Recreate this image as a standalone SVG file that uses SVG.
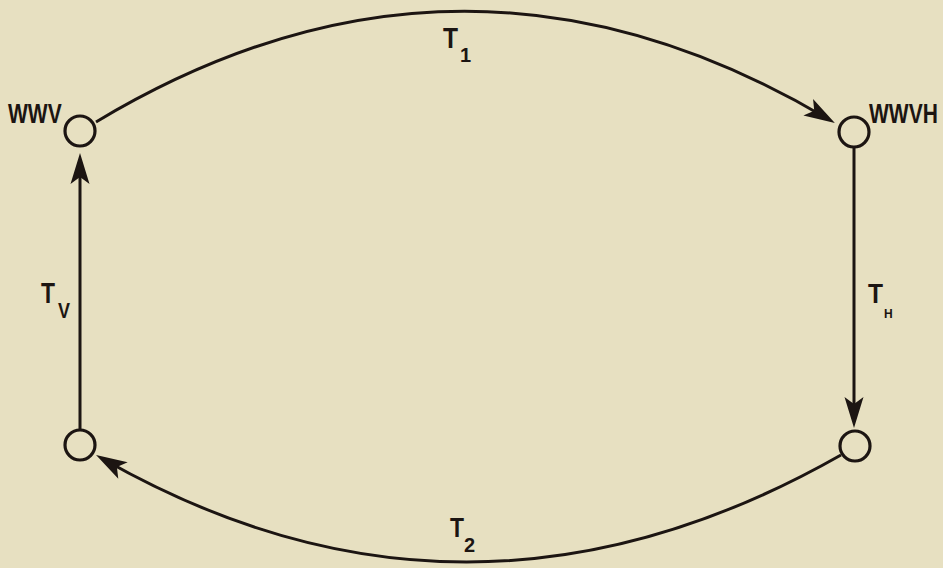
<svg xmlns="http://www.w3.org/2000/svg" width="943" height="568" viewBox="0 0 943 568">
<style>
.ln{fill:none;stroke:#1c1512;stroke-width:3}
.nd{fill:none;stroke:#1c1512;stroke-width:3.2}
.lb{font-family:"Liberation Sans",Arial,sans-serif;font-weight:bold;fill:#1c1512}
</style>
<defs>
<marker id="ah" markerUnits="userSpaceOnUse" viewBox="-34 -12 42 24" markerWidth="42" markerHeight="24" refX="-8" refY="0" orient="auto">
<path d="M0,0 L-31,-9.5 L-24,0 L-31,9.5 Z" fill="#1c1512"/>
</marker>
</defs>
<rect width="943" height="568" fill="#e7e0c1"/>
<g id="connectors">
<path class="ln" d="M96,122 Q462,-98 828,119" marker-end="url(#ah)"/>
<path class="ln" d="M854,147 L854,420" marker-end="url(#ah)"/>
<path class="ln" d="M841,455 Q468,667 103,459" marker-end="url(#ah)"/>
<path class="ln" d="M80,430 L80,161" marker-end="url(#ah)"/>
</g>
<g id="node-wwv">
<circle class="nd" cx="80" cy="131" r="15"/>
<text class="lb" transform="translate(8,123) scale(1,1.35)" font-size="21">WWV</text>
</g>
<g id="node-wwvh">
<circle class="nd" cx="854" cy="132" r="15"/>
<text class="lb" transform="translate(869,123) scale(1,1.35)" font-size="21">WWVH</text>
</g>
<g id="node-bl">
<circle class="nd" cx="80" cy="445" r="15"/>
</g>
<g id="node-br">
<circle class="nd" cx="855" cy="446" r="15"/>
</g>
<g id="labels">
<text class="lb" x="443" y="48" font-size="29" textLength="15" lengthAdjust="spacingAndGlyphs">T</text>
<text class="lb" x="460" y="62" font-size="20">1</text>
<text class="lb" x="450" y="537" font-size="27" textLength="14" lengthAdjust="spacingAndGlyphs">T</text>
<text class="lb" x="464" y="552" font-size="20">2</text>
<text class="lb" x="41" y="303" font-size="30" textLength="14" lengthAdjust="spacingAndGlyphs">T</text>
<text class="lb" x="58" y="318" font-size="22" textLength="12" lengthAdjust="spacingAndGlyphs">V</text>
<text class="lb" x="868" y="303" font-size="28" textLength="15" lengthAdjust="spacingAndGlyphs">T</text>
<text class="lb" x="884" y="318" font-size="12">H</text>
</g>
</svg>
